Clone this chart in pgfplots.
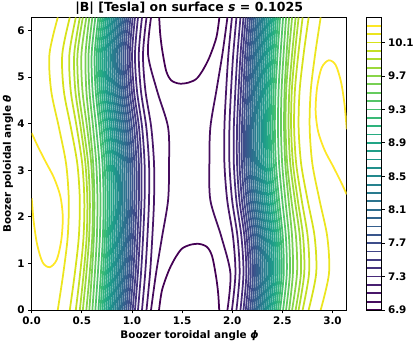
\documentclass[border=0pt]{standalone}
\usepackage{fontspec}
\setmainfont{DejaVu Sans}
\usepackage{pgfplots}
\pgfplotsset{compat=1.18}
\pgfplotsset{colormap/viridis}
\pgfplotsset{
  cl/.style={smooth, line width=1.75bp, color of colormap={#1 of viridis}},
  cb/.style={line width=1.75bp, color of colormap={#1 of viridis}},
}
\newcommand{\tfont}{\fontsize{10.4bp}{12bp}\selectfont\bfseries}

\begin{document}
\begin{tikzpicture}
\useasboundingbox (-31.7bp,-36bp) rectangle (384.3bp,310bp);
\begin{axis}[
  scale only axis, width=315bp, height=292.5bp,
  xmin=0, xmax=3.14159, ymin=0, ymax=6.28319,
  xtick={0,0.5,1,1.5,2,2.5,3},
  xticklabels={0.0,0.5,1.0,1.5,2.0,2.5,3.0},
  ytick={0,1,2,3,4,5,6},
  yticklabels={0,1,2,3,4,5,6},
  tick align=outside, tick pos=left,
  major tick length=3.5bp,
  every tick/.style={black, line width=0.8bp},
  tick label style={font=\tfont},
  axis line style={line width=0.8bp},
]
% B = 10.3 (closed pieces near phi = 0 and phi = pi)
\addplot[cl=1000] coordinates {(0,3.80)(0.06,3.52)(0.14,3.18)(0.22,2.85)(0.285,2.45)(0.31,2.0)(0.295,1.5)(0.25,1.08)(0.18,0.92)(0.11,1.02)(0.055,1.4)(0.02,1.9)(0,2.4)};
\addplot[cl=1000] coordinates {(3.1416,2.4832)(3.0816,2.7632)(3.0016,3.1032)(2.9216,3.4332)(2.8566,3.8332)(2.8316,4.2832)(2.8466,4.7832)(2.8916,5.2032)(2.9616,5.3632)(3.0316,5.2632)(3.0866,4.8832)(3.1216,4.3832)(3.1416,3.8832)};
% B = 6.9 (wells at theta = 0 and 2 pi)
\addplot[cl=0] coordinates {(1.27,0)(1.30,0.43)(1.37,0.86)(1.44,1.15)(1.50,1.32)(1.58,1.40)(1.67,1.42)(1.75,1.35)(1.80,1.15)(1.84,0.7)(1.86,0.35)(1.87,0)};
\addplot[cl=0] coordinates {(1.2716,6.2832)(1.2816,5.9332)(1.3016,5.5832)(1.3416,5.1332)(1.3916,4.9332)(1.4716,4.8632)(1.5616,4.8832)(1.6416,4.9632)(1.7016,5.1332)(1.7716,5.4232)(1.8416,5.8532)(1.8716,6.2832)};
% left band, B = 10.2 ... 7.0
\addplot[cl=971] coordinates {(.26,0)(.315,.7854)(.359,1.5708)(.37,2.3562)(.343,3.1416)(.271,3.927)(.194,4.7124)(.177,5.4978)(.26,6.2832)};
\addplot[cl=941] coordinates {(.38,0)(.43,.7854)(.47,1.5708)(.48,2.3562)(.455,3.1416)(.39,3.927)(.32,4.7124)(.305,5.4978)(.38,6.2832)};
\addplot[cl=912] coordinates {(.44,0)(.483,.7854)(.517,1.5708)(.525,2.3562)(.504,3.1416)(.449,3.927)(.389,4.7124)(.376,5.4978)(.44,6.2832)};
\addplot[cl=882] coordinates {(.48,0)(.518,.7854)(.548,1.5708)(.555,2.3562)(.536,3.1416)(.488,3.927)(.435,4.7124)(.424,5.4978)(.48,6.2832)};
\addplot[cl=853] coordinates {(.51,0)(.545,.7854)(.573,1.5708)(.58,2.3562)(.563,3.1416)(.517,3.927)(.468,4.7124)(.457,5.4978)(.51,6.2832)};
\addplot[cl=824] coordinates {(.545,0)(.578,.7854)(.604,1.5708)(.61,2.3562)(.594,3.1416)(.552,3.927)(.506,4.7124)(.496,5.4978)(.545,6.2832)};
\addplot[cl=794] coordinates {(.575,0)(.60,.7854)(.62,1.5708)(.625,2.3562)(.613,3.1416)(.58,3.927)(.545,4.7124)(.537,5.4978)(.575,6.2832)};
\addplot[cl=765] coordinates {(.605,0)(.63,.7854)(.65,1.5708)(.656,2.3562)(.644,3.1416)(.612,3.927)(.576,4.7124)(.567,5.4978)(.605,6.2832)};
\addplot[cl=735] coordinates {(.635,0)(.66,.7854)(.68,1.5708)(.686,2.3562)(.675,3.1416)(.643,3.927)(.607,4.7124)(.598,5.4978)(.635,6.2832)};
\addplot[cl=706] coordinates {(.665,0)(.69,.7854)(.71,1.5708)(.717,2.3562)(.706,3.1416)(.675,3.927)(.638,4.7124)(.628,5.4978)(.665,6.2832)};
\addplot[cl=676] coordinates {(.685,0)(.711,.7854)(.73,1.5708)(.737,2.3562)(.727,3.1416)(.696,3.927)(.659,4.7124)(.649,5.4978)(.685,6.2832)};
\addplot[cl=647] coordinates {(.705,0)(.731,.7854)(.75,1.5708)(.758,2.3562)(.749,3.1416)(.718,3.927)(.68,4.7124)(.669,5.4978)(.705,6.2832)};
\addplot[cl=618] coordinates {(.724,0)(.75,.7854)(.769,1.5708)(.777,2.3562)(.769,3.1416)(.739,3.927)(.70,4.7124)(.689,5.4978)(.724,6.2832)};
\addplot[cl=588] coordinates {(.743,0)(.769,.7854)(.788,1.5708)(.797,2.3562)(.789,3.1416)(.759,3.927)(.72,4.7124)(.708,5.4978)(.743,6.2832)};
\addplot[cl=559] coordinates {(.762,0)(.788,.7854)(.807,1.5708)(.816,2.3562)(.809,3.1416)(.78,3.927)(.74,4.7124)(.728,5.4978)(.762,6.2832)};
\addplot[cl=529] coordinates {(.78,0)(.806,.7854)(.825,1.5708)(.835,2.3562)(.828,3.1416)(.799,3.927)(.759,4.7124)(.746,5.4978)(.78,6.2832)};
\addplot[cl=500] coordinates {(.798,0)(.825,.7854)(.844,1.5708)(.853,2.3562)(.847,3.1416)(.819,3.927)(.778,4.7124)(.765,5.4978)(.798,6.2832)};
\addplot[cl=471] coordinates {(.816,0)(.843,.7854)(.862,1.5708)(.872,2.3562)(.866,3.1416)(.839,3.927)(.798,4.7124)(.783,5.4978)(.816,6.2832)};
\addplot[cl=441] coordinates {(.834,0)(.861,.7854)(.88,1.5708)(.89,2.3562)(.885,3.1416)(.858,3.927)(.817,4.7124)(.802,5.4978)(.834,6.2832)};
\addplot[cl=412] coordinates {(.852,0)(.879,.7854)(.898,1.5708)(.909,2.3562)(.904,3.1416)(.878,3.927)(.836,4.7124)(.82,5.4978)(.852,6.2832)};
\addplot[cl=382] coordinates {(.87,0)(.897,.7854)(.916,1.5708)(.927,2.3562)(.923,3.1416)(.897,3.927)(.855,4.7124)(.839,5.4978)(.87,6.2832)};
\addplot[cl=353] coordinates {(.888,0)(.915,.7854)(.934,1.5708)(.946,2.3562)(.943,3.1416)(.917,3.927)(.874,4.7124)(.857,5.4978)(.888,6.2832)};
\addplot[cl=324] coordinates {(.906,0)(.933,.7854)(.952,1.5708)(.964,2.3562)(.962,3.1416)(.937,3.927)(.893,4.7124)(.876,5.4978)(.906,6.2832)};
\addplot[cl=294] coordinates {(.925,0)(.953,.7854)(.971,1.5708)(.984,2.3562)(.982,3.1416)(.957,3.927)(.913,4.7124)(.895,5.4978)(.925,6.2832)};
\addplot[cl=265] coordinates {(.944,0)(.972,.7854)(.99,1.5708)(1.003,2.3562)(1.002,3.1416)(.978,3.927)(.933,4.7124)(.915,5.4978)(.944,6.2832)};
\addplot[cl=235] coordinates {(.964,0)(.992,.7854)(1.01,1.5708)(1.024,2.3562)(1.023,3.1416)(.999,3.927)(.954,4.7124)(.935,5.4978)(.964,6.2832)};
\addplot[cl=206] coordinates {(.985,0)(1.013,.7854)(1.031,1.5708)(1.045,2.3562)(1.045,3.1416)(1.022,3.927)(.976,4.7124)(.957,5.4978)(.985,6.2832)};
\addplot[cl=176] coordinates {(1.007,0)(1.036,.7854)(1.055,1.5708)(1.069,2.3562)(1.069,3.1416)(1.045,3.927)(.998,4.7124)(.978,5.4978)(1.007,6.2832)};
\addplot[cl=147] coordinates {(1.03,0)(1.059,.7854)(1.079,1.5708)(1.094,2.3562)(1.094,3.1416)(1.07,3.927)(1.02,4.7124)(1.001,5.4978)(1.03,6.2832)};
\addplot[cl=118] coordinates {(1.06,0)(1.09,.7854)(1.111,1.5708)(1.126,2.3562)(1.126,3.1416)(1.101,3.927)(1.05,4.7124)(1.03,5.4978)(1.06,6.2832)};
\addplot[cl=88] coordinates {(1.10,0)(1.132,.7854)(1.154,1.5708)(1.17,2.3562)(1.17,3.1416)(1.143,3.927)(1.089,4.7124)(1.068,5.4978)(1.10,6.2832)};
\addplot[cl=59] coordinates {(1.145,0)(1.18,.7854)(1.203,1.5708)(1.22,2.3562)(1.22,3.1416)(1.192,3.927)(1.134,4.7124)(1.11,5.4978)(1.145,6.2832)};
\addplot[cl=29] coordinates {(1.19,0)(1.24,.7854)(1.30,1.5708)(1.36,2.3562)(1.37,3.1416)(1.36,3.927)(1.25,4.7124)(1.16,5.4978)(1.19,6.2832)};
% right band, B = 7.0 ... 10.2
\addplot[cl=29] coordinates {(1.952,0)(1.982,.7854)(1.892,1.5708)(1.782,2.3562)(1.772,3.1416)(1.782,3.927)(1.842,4.7124)(1.902,5.4978)(1.952,6.2832)};
\addplot[cl=59] coordinates {(1.997,0)(2.032,.7854)(2.008,1.5708)(1.950,2.3562)(1.922,3.1416)(1.922,3.927)(1.939,4.7124)(1.962,5.4978)(1.997,6.2832)};
\addplot[cl=88] coordinates {(2.042,0)(2.074,.7854)(2.053,1.5708)(1.999,2.3562)(1.972,3.1416)(1.972,3.927)(1.988,4.7124)(2.010,5.4978)(2.042,6.2832)};
\addplot[cl=118] coordinates {(2.082,0)(2.112,.7854)(2.092,1.5708)(2.041,2.3562)(2.016,3.1416)(2.016,3.927)(2.031,4.7124)(2.052,5.4978)(2.082,6.2832)};
\addplot[cl=147] coordinates {(2.112,0)(2.141,.7854)(2.122,1.5708)(2.072,2.3562)(2.048,3.1416)(2.048,3.927)(2.063,4.7124)(2.083,5.4978)(2.112,6.2832)};
\addplot[cl=176] coordinates {(2.135,0)(2.164,.7854)(2.144,1.5708)(2.097,2.3562)(2.073,3.1416)(2.073,3.927)(2.087,4.7124)(2.106,5.4978)(2.135,6.2832)};
\addplot[cl=206] coordinates {(2.157,0)(2.185,.7854)(2.166,1.5708)(2.120,2.3562)(2.097,3.1416)(2.097,3.927)(2.111,4.7124)(2.129,5.4978)(2.157,6.2832)};
\addplot[cl=235] coordinates {(2.178,0)(2.207,.7854)(2.188,1.5708)(2.143,2.3562)(2.119,3.1416)(2.118,3.927)(2.132,4.7124)(2.150,5.4978)(2.178,6.2832)};
\addplot[cl=265] coordinates {(2.198,0)(2.227,.7854)(2.209,1.5708)(2.164,2.3562)(2.140,3.1416)(2.139,3.927)(2.152,4.7124)(2.170,5.4978)(2.198,6.2832)};
\addplot[cl=294] coordinates {(2.217,0)(2.247,.7854)(2.229,1.5708)(2.185,2.3562)(2.160,3.1416)(2.158,3.927)(2.171,4.7124)(2.189,5.4978)(2.217,6.2832)};
\addplot[cl=324] coordinates {(2.236,0)(2.266,.7854)(2.249,1.5708)(2.205,2.3562)(2.180,3.1416)(2.178,3.927)(2.190,4.7124)(2.209,5.4978)(2.236,6.2832)};
\addplot[cl=353] coordinates {(2.254,0)(2.285,.7854)(2.268,1.5708)(2.225,2.3562)(2.199,3.1416)(2.196,3.927)(2.208,4.7124)(2.227,5.4978)(2.254,6.2832)};
\addplot[cl=382] coordinates {(2.272,0)(2.303,.7854)(2.287,1.5708)(2.245,2.3562)(2.219,3.1416)(2.215,3.927)(2.226,4.7124)(2.245,5.4978)(2.272,6.2832)};
\addplot[cl=412] coordinates {(2.290,0)(2.322,.7854)(2.306,1.5708)(2.264,2.3562)(2.238,3.1416)(2.233,3.927)(2.244,4.7124)(2.263,5.4978)(2.290,6.2832)};
\addplot[cl=441] coordinates {(2.308,0)(2.340,.7854)(2.325,1.5708)(2.284,2.3562)(2.257,3.1416)(2.252,3.927)(2.262,4.7124)(2.281,5.4978)(2.308,6.2832)};
\addplot[cl=471] coordinates {(2.326,0)(2.359,.7854)(2.344,1.5708)(2.303,2.3562)(2.276,3.1416)(2.270,3.927)(2.280,4.7124)(2.299,5.4978)(2.326,6.2832)};
\addplot[cl=500] coordinates {(2.344,0)(2.377,.7854)(2.364,1.5708)(2.323,2.3562)(2.295,3.1416)(2.289,3.927)(2.298,4.7124)(2.317,5.4978)(2.344,6.2832)};
\addplot[cl=529] coordinates {(2.362,0)(2.396,.7854)(2.383,1.5708)(2.343,2.3562)(2.314,3.1416)(2.307,3.927)(2.317,4.7124)(2.336,5.4978)(2.362,6.2832)};
\addplot[cl=559] coordinates {(2.380,0)(2.414,.7854)(2.402,1.5708)(2.362,2.3562)(2.333,3.1416)(2.326,3.927)(2.335,4.7124)(2.354,5.4978)(2.380,6.2832)};
\addplot[cl=588] coordinates {(2.399,0)(2.434,.7854)(2.422,1.5708)(2.383,2.3562)(2.353,3.1416)(2.345,3.927)(2.354,4.7124)(2.373,5.4978)(2.399,6.2832)};
\addplot[cl=618] coordinates {(2.418,0)(2.453,.7854)(2.442,1.5708)(2.403,2.3562)(2.373,3.1416)(2.365,3.927)(2.373,4.7124)(2.392,5.4978)(2.418,6.2832)};
\addplot[cl=647] coordinates {(2.437,0)(2.473,.7854)(2.462,1.5708)(2.424,2.3562)(2.393,3.1416)(2.384,3.927)(2.392,4.7124)(2.411,5.4978)(2.437,6.2832)};
\addplot[cl=676] coordinates {(2.457,0)(2.493,.7854)(2.483,1.5708)(2.446,2.3562)(2.415,3.1416)(2.405,3.927)(2.412,4.7124)(2.431,5.4978)(2.457,6.2832)};
\addplot[cl=706] coordinates {(2.477,0)(2.514,.7854)(2.504,1.5708)(2.467,2.3562)(2.436,3.1416)(2.425,3.927)(2.432,4.7124)(2.452,5.4978)(2.477,6.2832)};
\addplot[cl=735] coordinates {(2.507,0)(2.544,.7854)(2.535,1.5708)(2.499,2.3562)(2.467,3.1416)(2.456,3.927)(2.462,4.7124)(2.482,5.4978)(2.507,6.2832)};
\addplot[cl=765] coordinates {(2.537,0)(2.575,.7854)(2.566,1.5708)(2.530,2.3562)(2.498,3.1416)(2.486,3.927)(2.492,4.7124)(2.512,5.4978)(2.537,6.2832)};
\addplot[cl=794] coordinates {(2.567,0)(2.605,.7854)(2.597,1.5708)(2.562,2.3562)(2.529,3.1416)(2.517,3.927)(2.522,4.7124)(2.542,5.4978)(2.567,6.2832)};
\addplot[cl=824] coordinates {(2.597,0)(2.646,.7854)(2.636,1.5708)(2.590,2.3562)(2.548,3.1416)(2.532,3.927)(2.538,4.7124)(2.564,5.4978)(2.597,6.2832)};
\addplot[cl=853] coordinates {(2.632,0)(2.685,.7854)(2.674,1.5708)(2.625,2.3562)(2.579,3.1416)(2.562,3.927)(2.569,4.7124)(2.597,5.4978)(2.632,6.2832)};
\addplot[cl=882] coordinates {(2.662,0)(2.718,.7854)(2.707,1.5708)(2.654,2.3562)(2.606,3.1416)(2.587,3.927)(2.594,4.7124)(2.624,5.4978)(2.662,6.2832)};
\addplot[cl=912] coordinates {(2.702,0)(2.766,.7854)(2.753,1.5708)(2.693,2.3562)(2.638,3.1416)(2.617,3.927)(2.625,4.7124)(2.659,5.4978)(2.702,6.2832)};
\addplot[cl=941] coordinates {(2.762,0)(2.837,.7854)(2.822,1.5708)(2.752,2.3562)(2.687,3.1416)(2.662,3.927)(2.672,4.7124)(2.712,5.4978)(2.762,6.2832)};
\addplot[cl=971] coordinates {(2.882,0)(2.965,.7854)(2.948,1.5708)(2.871,2.3562)(2.799,3.1416)(2.772,3.927)(2.783,4.7124)(2.827,5.4978)(2.882,6.2832)};
\end{axis}
% colour bar
\begin{axis}[
  at={(335bp,0bp)}, anchor=south west,
  scale only axis, width=14.3bp, height=292.5bp,
  xmin=0, xmax=1, ymin=6.9, ymax=10.4,
  xtick=\empty,
  ytick={6.9,7.3,7.7,8.1,8.5,8.9,9.3,9.7,10.1},
  yticklabels={6.9,7.3,7.7,8.1,8.5,8.9,9.3,9.7,10.1},
  ytick pos=right, yticklabel pos=right,
  tick align=outside, major tick length=3.5bp,
  every tick/.style={black, line width=0.8bp},
  tick label style={font=\tfont},
  axis line style={line width=0.8bp},
  axis on top,
]
\addplot[cb=0] coordinates {(0,6.9)(1,6.9)};
\addplot[cb=29] coordinates {(0,7.0)(1,7.0)};
\addplot[cb=59] coordinates {(0,7.1)(1,7.1)};
\addplot[cb=88] coordinates {(0,7.2)(1,7.2)};
\addplot[cb=118] coordinates {(0,7.3)(1,7.3)};
\addplot[cb=147] coordinates {(0,7.4)(1,7.4)};
\addplot[cb=176] coordinates {(0,7.5)(1,7.5)};
\addplot[cb=206] coordinates {(0,7.6)(1,7.6)};
\addplot[cb=235] coordinates {(0,7.7)(1,7.7)};
\addplot[cb=265] coordinates {(0,7.8)(1,7.8)};
\addplot[cb=294] coordinates {(0,7.9)(1,7.9)};
\addplot[cb=324] coordinates {(0,8.0)(1,8.0)};
\addplot[cb=353] coordinates {(0,8.1)(1,8.1)};
\addplot[cb=382] coordinates {(0,8.2)(1,8.2)};
\addplot[cb=412] coordinates {(0,8.3)(1,8.3)};
\addplot[cb=441] coordinates {(0,8.4)(1,8.4)};
\addplot[cb=471] coordinates {(0,8.5)(1,8.5)};
\addplot[cb=500] coordinates {(0,8.6)(1,8.6)};
\addplot[cb=529] coordinates {(0,8.7)(1,8.7)};
\addplot[cb=559] coordinates {(0,8.8)(1,8.8)};
\addplot[cb=588] coordinates {(0,8.9)(1,8.9)};
\addplot[cb=618] coordinates {(0,9.0)(1,9.0)};
\addplot[cb=647] coordinates {(0,9.1)(1,9.1)};
\addplot[cb=676] coordinates {(0,9.2)(1,9.2)};
\addplot[cb=706] coordinates {(0,9.3)(1,9.3)};
\addplot[cb=735] coordinates {(0,9.4)(1,9.4)};
\addplot[cb=765] coordinates {(0,9.5)(1,9.5)};
\addplot[cb=794] coordinates {(0,9.6)(1,9.6)};
\addplot[cb=824] coordinates {(0,9.7)(1,9.7)};
\addplot[cb=853] coordinates {(0,9.8)(1,9.8)};
\addplot[cb=882] coordinates {(0,9.9)(1,9.9)};
\addplot[cb=912] coordinates {(0,10.0)(1,10.0)};
\addplot[cb=941] coordinates {(0,10.1)(1,10.1)};
\addplot[cb=971] coordinates {(0,10.2)(1,10.2)};
\addplot[cb=1000] coordinates {(0,10.3)(1,10.3)};
\end{axis}
\node[font=\fontsize{12.5bp}{15bp}\selectfont\bfseries] at (157.5bp,301.5bp) {|B| [Tesla] on surface \textit{s} = 0.1025};
\node[font=\tfont] at (157.8bp,-26bp) {Boozer toroidal angle \textit{ϕ}};
\node[font=\tfont, rotate=90] at (-23.7bp,146bp) {Boozer poloidal angle \textit{θ}};
\end{tikzpicture}
\end{document}
